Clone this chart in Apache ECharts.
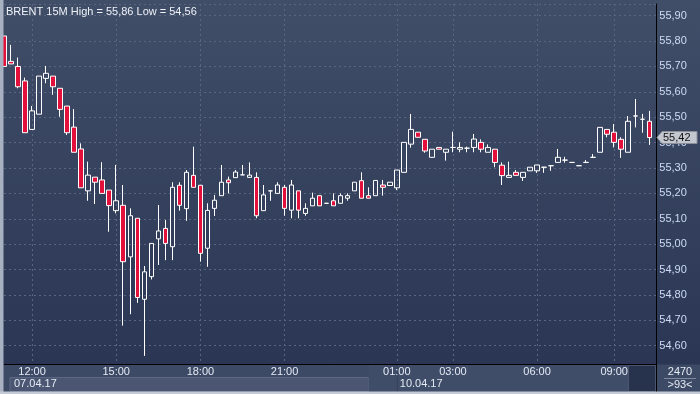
<!DOCTYPE html>
<html><head><meta charset="utf-8">
<script src="https://cdn.jsdelivr.net/npm/echarts@6/dist/echarts.min.js"></script>
<style>html,body{margin:0;padding:0;background:#2e3a56;}#c{width:700px;height:394px;}</style>
</head><body><div id="c"></div>
<script>
const titleText = 'BRENT 15M High = 55,86 Low = 54,56';
// 15-minute bars; last entry '' is the empty right margin slot of the axis
const categories = [
 '11:00','11:15','11:30','11:45','12:00','12:15','12:30','12:45','13:00','13:15','13:30','13:45',
 '14:00','14:15','14:30','14:45','15:00','15:15','15:30','15:45','16:00','16:15','16:30','16:45',
 '17:00','17:15','17:30','17:45','18:00','18:15','18:30','18:45','19:00','19:15','19:30','19:45',
 '20:00','20:15','20:30','20:45','21:00','21:15','21:30','21:45','22:00','22:15','22:30','22:45',
 '23:00','23:15','23:30','23:45',
 '00:00','00:15','00:30','00:45','01:00','01:15','01:30','01:45','02:00','02:15','02:30','02:45',
 '03:00','03:15','03:30','03:45','04:00','04:15','04:30','04:45','05:00','05:15','05:30','05:45',
 '06:00','06:15','06:30','06:45','07:00','07:15','07:30','07:45','08:00','08:15','08:30',
 '09:00','09:15','09:30','09:45','10:00','10:15',''
];
const tickLabels = ['12:00','15:00','18:00','21:00','01:00','03:00','06:00','09:00'];
const dates = ['07.04.17','10.04.17'];
const dateStartTimes = ['11:00','01:00'];

const opens = [55.82,55.72,55.70,55.643,55.452,55.512,55.653,55.662,55.614,55.544,55.461,55.375,
 55.21,55.264,55.253,55.213,55.132,55.153,54.95,55.102,54.783,54.872,55.021,55.062,
 54.99,55.232,55.14,55.271,55.232,54.984,55.141,55.191,55.253,55.262,55.273,55.263,
 55.263,55.132,55.21,55.20,55.224,55.134,55.21,55.121,55.151,55.191,55.161,55.171,
 55.161,55.181,55.21,55.25,55.191,55.191,55.233,55.231,55.222,55.283,55.394,55.441,
 55.413,55.342,55.381,55.362,55.381,55.374,55.378,55.381,55.401,55.362,55.374,55.311,
 55.263,55.283,55.263,55.289,55.289,55.303,55.309,55.322,55.331,55.322,55.309,55.322,
 55.342,55.362,55.452,55.441,55.413,55.362,55.505,55.492,55.484];
const closes = [55.70,55.71,55.62,55.439,55.525,55.662,55.673,55.62,55.531,55.439,55.362,55.222,
 55.272,55.244,55.20,55.152,55.171,54.931,55.112,54.79,54.891,55.003,55.052,55.003,
 55.224,55.153,55.283,55.224,54.964,55.133,55.173,55.244,55.242,55.284,55.273,55.272,
 55.112,55.194,55.21,55.233,55.141,55.233,55.134,55.141,55.181,55.151,55.161,55.151,
 55.191,55.191,55.244,55.181,55.181,55.251,55.224,55.244,55.292,55.401,55.452,55.421,
 55.367,55.374,55.374,55.374,55.381,55.381,55.378,55.414,55.374,55.381,55.322,55.27,
 55.271,55.271,55.283,55.303,55.312,55.303,55.309,55.342,55.331,55.322,55.309,55.322,
 55.342,55.46,55.433,55.401,55.374,55.484,55.505,55.492,55.42];
const lows = [55.70,55.71,55.614,55.439,55.452,55.512,55.634,55.588,55.502,55.43,55.362,55.222,
 55.171,55.158,55.20,55.049,55.121,54.679,54.724,54.769,54.56,54.861,54.918,54.937,
 54.937,55.132,55.092,55.224,54.931,54.911,55.111,55.191,55.20,55.262,55.273,55.263,
 55.102,55.132,55.171,55.20,55.112,55.102,55.102,55.112,55.151,55.151,55.161,55.151,
 55.161,55.171,55.21,55.181,55.181,55.191,55.191,55.231,55.213,55.283,55.38,55.421,
 55.36,55.342,55.374,55.329,55.362,55.362,55.362,55.362,55.362,55.362,55.303,55.233,
 55.263,55.271,55.249,55.289,55.281,55.281,55.289,55.322,55.321,55.322,55.309,55.322,
 55.342,55.362,55.421,55.381,55.34,55.362,55.46,55.439,55.391];
const highs = [55.82,55.785,55.735,55.656,55.544,55.662,55.702,55.662,55.614,55.544,55.532,55.397,
 55.325,55.264,55.323,55.213,55.312,55.233,55.141,55.102,54.914,55.003,55.154,55.095,
 55.244,55.244,55.292,55.384,55.232,55.161,55.194,55.312,55.266,55.292,55.312,55.322,
 55.283,55.233,55.21,55.244,55.233,55.253,55.21,55.161,55.203,55.191,55.161,55.20,
 55.20,55.20,55.244,55.283,55.224,55.251,55.253,55.244,55.292,55.401,55.513,55.441,
 55.413,55.374,55.381,55.374,55.443,55.401,55.384,55.434,55.413,55.393,55.374,55.322,
 55.325,55.292,55.283,55.303,55.312,55.303,55.309,55.375,55.344,55.322,55.309,55.331,
 55.355,55.46,55.452,55.473,55.421,55.505,55.572,55.513,55.525];
const lastPriceLabel = '55,42';
const barTotal = '2470';
const visibleBars = '>93<';

const FONT = "'Liberation Sans', Arial, sans-serif";
const candleData = opens.map((o, i) => [o, closes[i], lows[i], highs[i]]);
const showTick = (idx, val) => tickLabels.indexOf(val) >= 0;
const fmt = v => v.toFixed(2).replace('.', ',');

const chart = echarts.init(document.getElementById('c'), null, {renderer: 'canvas'});
chart.setOption({
  animation: false,
  backgroundColor: {
    type: 'linear', x: 0, y: 0, x2: 0, y2: 1,
    colorStops: [{offset: 0, color: '#414e68'}, {offset: 1, color: '#283452'}]
  },
  title: {
    text: titleText, left: 1, top: 1,
    textStyle: {color: '#eef2f8', fontSize: 11, fontWeight: 'normal', fontFamily: FONT}
  },
  grid: {left: 4, top: 4, right: 43.7, bottom: 30, containLabel: false},
  xAxis: {
    type: 'category', data: categories, boundaryGap: false,
    axisLine: {show: true, lineStyle: {color: '#000000', width: 1}},
    axisTick: {show: false},
    axisLabel: {interval: showTick, color: '#e4eaf4', fontSize: 11, fontFamily: FONT, margin: 2},
    splitLine: {show: true, interval: showTick, lineStyle: {color: '#5a6680', type: [2, 3], width: 1}}
  },
  yAxis: {
    type: 'value', position: 'right', min: 54.528, max: 55.946, splitNumber: 14, scale: true,
    axisLine: {show: true, lineStyle: {color: '#000000', width: 1}},
    axisTick: {show: false},
    axisLabel: {formatter: fmt, color: '#cddcf4', fontSize: 11, fontFamily: FONT, margin: 3,
      showMinLabel: false, showMaxLabel: false},
    splitLine: {show: true, lineStyle: {color: '#5a6680', type: [2, 3], width: 1}}
  },
  series: [{
    type: 'candlestick', data: candleData, barWidth: 5, clip: true,
    itemStyle: {color: 'rgba(0,0,0,0)', color0: '#e2103b', borderColor: '#ffffff', borderColor0: '#ffffff', borderWidth: 1},
    emphasis: {disabled: true}
  }]
});

const yPrice = chart.convertToPixel({yAxisIndex: 0}, closes[closes.length - 1]);
const xDay1 = chart.convertToPixel({xAxisIndex: 0}, dateStartTimes[0]);
const xDay2 = chart.convertToPixel({xAxisIndex: 0}, dateStartTimes[1]);
const xSplit = chart.convertToPixel({xAxisIndex: 0}, '00:00');

chart.setOption({
  graphic: [
    {type: 'rect', z: -10, shape: {x: 0, y: 364.5, width: 700, height: 30}, style: {fill: '#3d4a65'}},
    {type: 'rect', z: -9, shape: {x: xDay1 + 6, y: 377.5, width: xSplit - xDay1 - 6, height: 14}, style: {fill: '#4b5772', stroke: '#5c6883', lineWidth: 1}},
    {type: 'rect', z: -9, shape: {x: xSplit, y: 364.5, width: 628 - xSplit, height: 27}, style: {fill: '#404d68'}},
    {type: 'line', z: -8, shape: {x1: xDay2 + 0.5, y1: 365, x2: xDay2 + 0.5, y2: 391}, style: {stroke: '#36425c', lineWidth: 1}},
    {type: 'text', z: 50, x: xDay1 + 10, y: 384, style: {text: dates[0], fill: '#e4eaf4', font: '11px ' + FONT, verticalAlign: 'middle'}},
    {type: 'text', z: 50, x: xDay2 + 3, y: 384, style: {text: dates[1], fill: '#e4eaf4', font: '11px ' + FONT, verticalAlign: 'middle'}},
    {type: 'rect', z: 40, shape: {x: 628.5, y: 365.5, width: 27, height: 26}, style: {fill: '#27324c', stroke: '#4a5570', lineWidth: 1}},
    {type: 'line', z: 40, shape: {x1: 656.5, y1: 364, x2: 656.5, y2: 392}, style: {stroke: '#000000', lineWidth: 1}},
    {type: 'text', z: 50, x: 680, y: 372, style: {text: barTotal, fill: '#e4eaf4', font: '11px ' + FONT, align: 'center', verticalAlign: 'middle'}},
    {type: 'line', z: 50, shape: {x1: 664, y1: 378.5, x2: 696, y2: 378.5}, style: {stroke: '#7d889c', lineWidth: 1}},
    {type: 'text', z: 50, x: 680, y: 385, style: {text: visibleBars, fill: '#e4eaf4', font: '11px ' + FONT, align: 'center', verticalAlign: 'middle'}},
    {type: 'rect', z: 100, shape: {x: 0, y: 0, width: 3.5, height: 394}, style: {fill: '#a7b1c2'}},
    {type: 'rect', z: 100, shape: {x: 0, y: 391.5, width: 700, height: 3}, style: {fill: '#c5cbd6'}},
    {type: 'polygon', z: 60, shape: {points: [[657, yPrice], [662, yPrice - 6], [697, yPrice - 6], [697, yPrice + 6], [662, yPrice + 6]]},
      style: {fill: '#c3c7cf', stroke: '#8b909a', lineWidth: 1}},
    {type: 'text', z: 61, x: 663, y: yPrice, style: {text: lastPriceLabel, fill: '#111111', font: '11px ' + FONT, verticalAlign: 'middle'}}
  ]
});
</script></body></html>
